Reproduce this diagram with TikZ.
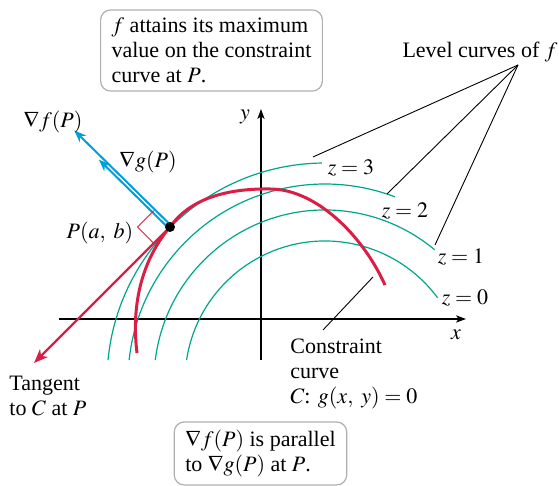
\documentclass[tikz,border=0pt]{standalone}
\usepackage{mathptmx}
\usepackage[no-math]{fontspec}
\setmainfont{Liberation Serif}
\usetikzlibrary{arrows.meta, calc, positioning}
\definecolor{levelteal}{RGB}{0, 166, 140}
\definecolor{curvered}{RGB}{218, 30, 70}
\definecolor{gradblue}{RGB}{0, 158, 219}
\definecolor{boxgray}{RGB}{175, 175, 175}
\newcommand{\lblsize}{\fontsize{11}{12.5}\selectfont}
\tikzset{
  axis/.style={draw=black, line width=0.55pt, -{Stealth[length=5pt, width=3.6pt, inset=1.3pt]}},
  level/.style={draw=levelteal, line width=0.6pt},
  constraint/.style={draw=curvered, line width=1.5pt},
  tangentline/.style={draw=curvered, line width=1.2pt, -{Stealth[length=7pt, width=5.5pt, inset=2pt]}},
  gradarrow/.style={draw=gradblue, line width=1pt, -{Stealth[length=6pt, width=4.5pt, inset=1.8pt]}},
  leader/.style={draw=black, line width=0.45pt},
  rightmark/.style={draw=curvered, line width=0.5pt},
  lbl/.style={font=\lblsize, inner sep=0pt, align=left},
  notebox/.style={draw=boxgray, line width=0.6pt, rounded corners=5pt, align=left, font=\lblsize, inner xsep=5.5pt, inner ysep=4pt},
  pointdot/.style={circle, fill=black, inner sep=0pt, minimum size=5pt}
}

\begin{document}
\begin{tikzpicture}[x=0.5pt, y=0.5pt]
    \useasboundingbox (0,0) rectangle (559,486);

    % Axes
    \coordinate (xl) at (59,167);
    \coordinate (xr) at (466,167);
    \coordinate (yb) at (261,126);
    \coordinate (yt) at (261,377);
    \draw[axis] (xl) -- (xr);
    \draw[axis] (yb) -- (yt);
    \node[lbl] (xlab) at (456,151) {$x$};
    \node[lbl] (ylab) at (245,369) {$y$};

    % Level curves of f (z = 0,1,2,3)
    \coordinate (O) at (325,105);
    \foreach \r/\a/\b in {140/171.3/36.5, 171/173/50.1, 197/173.9/69.2, 218/174.5/90.8}
        \draw[level] (O) ++(\a:\r) arc[start angle=\a, end angle=\b, radius=\r];
    \node[lbl] (z3) at (351,318) {$z = 3$};
    \node[lbl] (z2) at (405,275) {$z = 2$};
    \node[lbl] (z1) at (461,229) {$z = 1$};
    \node[lbl] (z0) at (465,188) {$z = 0$};

    \node[lbl] (levels) at (480,434) {Level curves of $f$};
    \coordinate (apex) at (518,421);
    \coordinate (lead3) at (313,329);
    \coordinate (lead2) at (387,292);
    \coordinate (lead1) at (435,241);
    \foreach \k in {1,2,3}
        \draw[leader] (apex) -- (lead\k);

    % Constraint curve C
    \coordinate (Pc) at (170,259);
    \coordinate (ctop) at (270,297);
    \draw[constraint] (137,133) .. controls (130,190) and (147,232) .. (Pc)
        .. controls (192,290) and (232,297.5) .. (ctop)
        .. controls (315,297) and (362,252) .. (385,201);
    \node[lbl] (cons) at (290,112) [anchor=west] {Constraint\\curve\\$C$: $g(x,\ y) = 0$};
    \coordinate (cpt) at (373,209);
    \coordinate (cend) at (323,156);
    \draw[leader] (cpt) -- (cend);

    % Point P, tangent and gradients
    \coordinate (tantip) at (34,123);
    \draw[tangentline] (Pc) -- (tantip);
    \node[lbl] (tanlab) at (9,90) [anchor=west] {Tangent\\to $C$ at $P$};

    \coordinate (fbase) at ($(Pc)+(45:1.8)$);
    \coordinate (gbase) at ($(Pc)+(225:1.8)$);
    \coordinate (ftip) at ($(fbase)+(135.5:136)$);
    \coordinate (gtip) at ($(gbase)+(135.5:98)$);
    \draw[gradarrow] (fbase) -- (ftip);
    \draw[gradarrow] (gbase) -- (gtip);
    \draw[rightmark] ($(Pc)+(225:23)$) -- ++(135:23) -- ++(45:23);
    \node[pointdot] (P) at (Pc) {};

    \node[lbl] (gradf) at (53,364) {$\nabla f(P)$};
    \node[lbl] (gradg) at (148,324) {$\nabla g(P)$};
    \node[lbl] (Plab) at (100,253) {$P(a,\ b)$};

    % Notes
    \node[notebox] (maxnote) at (211.5,435.5) {$f$ attains its maximum\\value on the constraint\\curve at $P$.};
    \node[notebox] (parnote) at (260.5,32.5) {$\nabla f(P)$ is parallel\\to $\nabla g(P)$ at $P$.};
\end{tikzpicture}
\end{document}
